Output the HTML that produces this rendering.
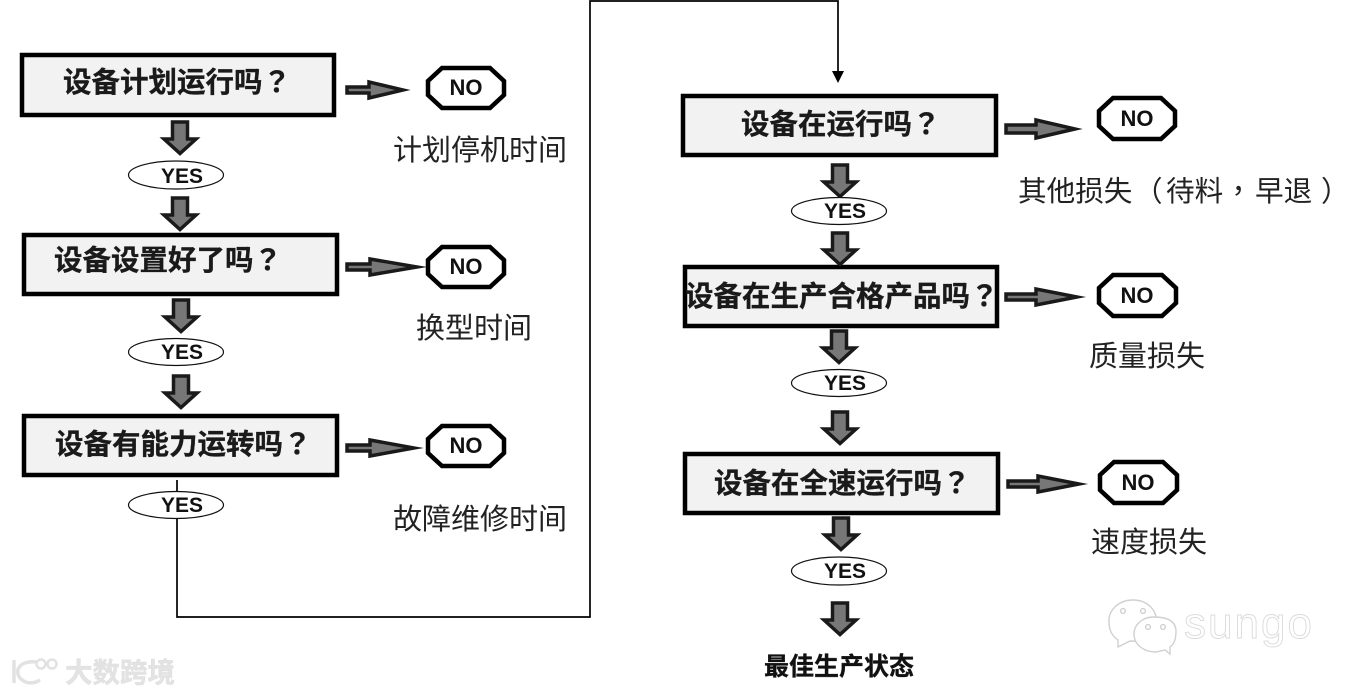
<!DOCTYPE html>
<html>
<head>
<meta charset="utf-8">
<title>设备运行流程图</title>
<style>
html,body{margin:0;padding:0;background:#fff;width:1358px;height:695px;overflow:hidden}
svg{display:block}
text{font-family:"Liberation Sans","Noto Sans CJK SC",sans-serif}
.t{font-size:28.5px;font-weight:700;fill:#1a1a1a;stroke:#1a1a1a;stroke-width:.3}
.l{font-size:29px;fill:#222}
.n{font-size:22px;font-weight:700;fill:#111;text-anchor:middle}
.y{font-size:21px;font-weight:700;fill:#111;text-anchor:middle}
.p{font-family:"Noto Sans CJK TC",sans-serif}
.box{fill:#f2f2f2;stroke:#000;stroke-width:4.5}
.oct{fill:#fff;stroke:#000;stroke-width:4.5}
.ell{fill:#fff;stroke:#111;stroke-width:1.2}
.arr{fill:#777;stroke:#1a1a1a;stroke-width:3.5;stroke-miterlimit:12}
.con{fill:none;stroke:#000;stroke-width:1.7}
</style>
</head>
<body>
<svg width="1358" height="695" viewBox="0 0 1358 695" xmlns="http://www.w3.org/2000/svg">
<defs>
<polygon id="d" class="arr" points="-7.5,2 7.5,2 7.5,19 16,19 0,33.5 -16,19 -7.5,19"/>
</defs>

<!-- connectors -->
<path class="con" d="M177 480V617H590V1H838V74"/>
<polygon points="832,71 844,71 838,83" fill="#000"/>

<!-- boxes -->
<rect class="box" x="22" y="55" width="312" height="60"/>
<rect class="box" x="24" y="235" width="313" height="59"/>
<rect class="box" x="24" y="416" width="313" height="59"/>
<rect class="box" x="683" y="96" width="313" height="59"/>
<rect class="box" x="685" y="267" width="312" height="59"/>
<rect class="box" x="685" y="454" width="313" height="59"/>

<!-- box labels -->
<text class="t" x="63" y="92">设备计划运行吗<tspan class="p">？</tspan></text>
<text class="t" x="54" y="270">设备设置好了吗<tspan class="p">？</tspan></text>
<text class="t" x="55" y="454">设备有能力运转吗<tspan class="p">？</tspan></text>
<text class="t" x="741" y="134">设备在运行吗<tspan class="p">？</tspan></text>
<text class="t" x="685" y="306">设备在生产合格产品吗<tspan class="p">？</tspan></text>
<text class="t" x="714" y="493">设备在全速运行吗<tspan class="p">？</tspan></text>

<!-- down arrows -->
<use href="#d" x="180" y="120"/>
<use href="#d" x="180" y="196"/>
<use href="#d" x="181" y="298"/>
<use href="#d" x="181" y="374"/>
<use href="#d" x="840" y="163"/>
<use href="#d" x="840" y="231"/>
<use href="#d" x="839" y="329"/>
<use href="#d" x="840" y="410"/>
<use href="#d" x="841" y="516"/>
<use href="#d" x="840" y="601"/>

<!-- YES ellipses -->
<ellipse class="ell" cx="176" cy="175" rx="47.5" ry="14"/>
<ellipse class="ell" cx="176" cy="352" rx="47.5" ry="13.5"/>
<ellipse class="ell" cx="176" cy="505" rx="47.5" ry="13.5"/>
<ellipse class="ell" cx="839" cy="211" rx="47.5" ry="13.5"/>
<ellipse class="ell" cx="839" cy="383" rx="47.5" ry="13.5"/>
<ellipse class="ell" cx="839" cy="571" rx="47.5" ry="14"/>
<text class="y" x="182" y="183">YES</text>
<text class="y" x="182" y="359">YES</text>
<text class="y" x="182" y="512">YES</text>
<text class="y" x="845" y="218">YES</text>
<text class="y" x="845" y="390">YES</text>
<text class="y" x="845" y="578">YES</text>

<!-- horizontal arrows -->
<polygon class="arr" points="347,87 369,87 369,82 403,90 369,98 369,93 347,93"/>
<polygon class="arr" points="347,264 370,264 370,259 417,267 370,275 370,270 347,270"/>
<polygon class="arr" points="347,445 370,445 370,440 414,448 370,456 370,451 347,451"/>
<polygon class="arr" points="1006,125 1036,125 1036,120 1075,129 1036,138 1036,133 1006,133"/>
<polygon class="arr" points="1006,294 1036,294 1036,289 1077,297 1036,305 1036,300 1006,300"/>
<polygon class="arr" points="1008,481 1038,481 1038,476 1079,484 1038,492 1038,487 1008,487"/>

<!-- NO octagons -->
<polygon class="oct" points="442,68 490,68 504,81 504,95 490,108 442,108 428,95 428,81"/>
<polygon class="oct" points="442,247 490,247 504,260 504,274 490,287 442,287 428,274 428,260"/>
<polygon class="oct" points="442,426 490,426 504,439 504,453 490,466 442,466 428,453 428,439"/>
<polygon class="oct" points="1113,98 1161,98 1175,111 1175,126 1161,139 1113,139 1099,126 1099,111"/>
<polygon class="oct" points="1113,275 1162,275 1176,288 1176,303 1162,316 1113,316 1099,303 1099,288"/>
<polygon class="oct" points="1114,462 1163,462 1177,475 1177,490 1163,503 1114,503 1100,490 1100,475"/>
<text class="n" x="466" y="95">NO</text>
<text class="n" x="466" y="274">NO</text>
<text class="n" x="466" y="453">NO</text>
<text class="n" x="1137" y="126">NO</text>
<text class="n" x="1137" y="303">NO</text>
<text class="n" x="1138" y="490">NO</text>

<!-- NO labels -->
<text class="l" x="393" y="160">计划停机时间</text>
<text class="l" x="416" y="338">换型时间</text>
<text class="l" x="393" y="529">故障维修时间</text>
<text class="l" x="1018" y="201" style="font-size:28.6px">其他损失<tspan x="1134">（</tspan><tspan x="1166">待料</tspan><tspan class="p" x="1224">，</tspan><tspan x="1255">早退</tspan><tspan x="1321">）</tspan></text>
<text class="l" x="1089" y="366">质量损失</text>
<text class="l" x="1091" y="552">速度损失</text>

<!-- final -->
<text x="764" y="675" font-size="25" font-weight="700" fill="#111" stroke="#111" stroke-width=".3">最佳生产状态</text>

<!-- watermark: 大数跨境 -->
<g fill="none" stroke="#e2e2e2" stroke-width="3.5">
<path d="M14 660V683M36 662C20 660 13 671 21 679C26 684 34 684 40 680"/>
<circle cx="41" cy="664" r="4.5" stroke-width="2.5"/>
<circle cx="52" cy="664" r="4.5" stroke-width="2.5"/>
</g>
<text x="65" y="682" font-size="27.5" font-weight="700" fill="#e3e3e3" stroke="#dcdcdc" stroke-width=".4">大数跨境</text>

<!-- watermark: sungo -->
<g fill="#fff" stroke="#d0d0d0" stroke-width="1.4">
<path d="M1118 640L1118 647L1130 641C1142 642 1158 636 1157 622C1156 608 1146 600 1133 600C1119 600 1108 610 1109 622C1109 630 1112 636 1118 640Z"/>
<path d="M1165 650L1170 654L1170 647C1176 643 1176 635 1176 630C1175 619 1164 617 1154 617C1143 617 1134 624 1134 634C1134 645 1144 652 1156 652Z"/>
<circle cx="1123" cy="611" r="2.4"/><circle cx="1143" cy="611" r="2.4"/>
<circle cx="1148" cy="627" r="2.4"/><circle cx="1163" cy="627" r="2.4"/>
</g>
<text x="1184" y="638" font-size="44" fill="#fff" stroke="#dadada" stroke-width=".9" textLength="128">sungo</text>
</svg>
</body>
</html>
